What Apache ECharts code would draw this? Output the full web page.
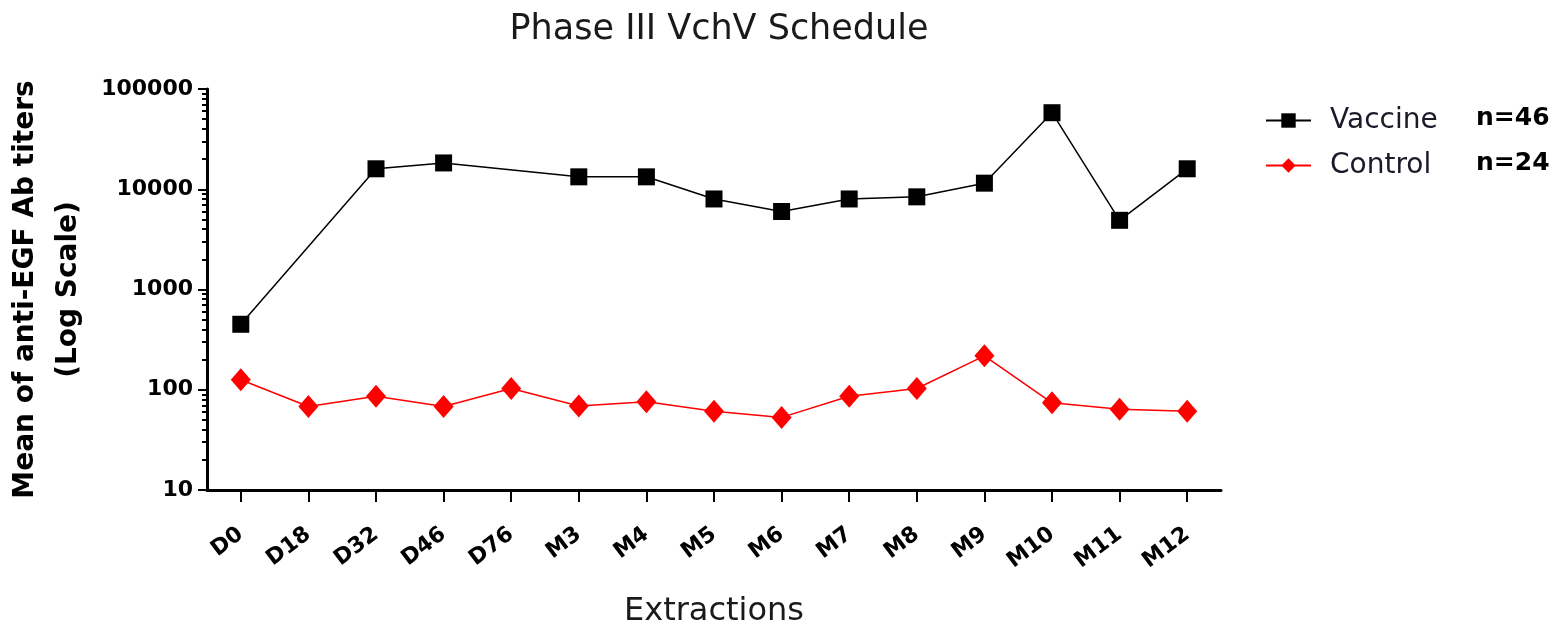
<!DOCTYPE html>
<html>
<head>
<meta charset="utf-8">
<script src="https://cdn.jsdelivr.net/npm/echarts@6/dist/echarts.min.js"></script>
<style>
  html, body { margin: 0; padding: 0; background: #fff; }
  #chart { width: 1554px; height: 632px; }
</style>
</head>
<body>
<div id="chart"></div>
<script>
// Extraction points along the schedule
var extractions = ["D0", "D18", "D32", "D46", "D76", "M3", "M4", "M5", "M6", "M7", "M8", "M9", "M10", "M11", "M12"];

// Mean anti-EGF titers (no vaccine sample at D18 / D76)
var vaccine = [450, null, 16000, 18300, null, 13300, 13300, 8000, 6000, 8000, 8400, 11500, 58000, 4900, 16000];
var control = [126, 68, 86, 68, 103, 69, 76, 61, 53, 86, 103, 218, 74, 64, 61];

var seriesNames = ["Vaccine", "Control"];
var groupSizes = ["n=46", "n=24"];

// log axis decades
var majorTicks = [10, 100, 1000, 10000, 100000];

var minorTicks = [];
majorTicks.slice(0, -1).forEach(function (d) {
  for (var k = 2; k <= 9; k++) {
    minorTicks.push(d * k);
  }
});

var chart = echarts.init(document.getElementById('chart'), null, {renderer: 'canvas'});

var font = 'DejaVu Sans';

var options = {
  backgroundColor: '#ffffff',
  animation: false,
  title: {
    text: 'Phase III VchV Schedule',
    left: 714,
    textAlign: 'center',
    top: 7,
    textStyle: {fontFamily: font, fontSize: 35, fontWeight: 'normal', color: '#1a1a1a'}
  },
  legend: {
    orient: 'vertical',
    left: 1260,
    top: 100,
    itemWidth: 45,
    itemHeight: 18,
    itemGap: 14,
    data: seriesNames,
    textStyle: {fontFamily: font, fontSize: 28, color: '#1a1a2a', lineHeight: 31, padding: [0, 0, 0, 14]}
  },
  grid: {left: 207, right: 333, top: 89, bottom: 142, outerBoundsMode: 'none'},
  xAxis: {
    type: 'category',
    data: extractions,
    boundaryGap: true,
    name: 'Extractions',
    nameLocation: 'middle',
    nameGap: 106,
    nameTextStyle: {fontFamily: font, fontSize: 32, color: '#1a1a1a'},
    axisLine: {lineStyle: {color: '#000', width: 3}},
    axisTick: {show: true, interval: 0, alignWithLabel: true, length: 12, lineStyle: {color: '#000', width: 2}},
    axisLabel: {
      interval: 0,
      rotate: 37,
      margin: 42,
      fontFamily: font,
      fontSize: 22,
      fontWeight: 'bold',
      color: '#000'
    },
    splitLine: {show: false}
  },
  yAxis: [
    {
      type: 'log',
      logBase: 10,
      min: 10,
      max: 100000,
      position: 'left',
      name: 'Mean of anti-EGF Ab titers\n(Log Scale)',
      nameLocation: 'middle',
      nameGap: 108,
      nameTextStyle: {fontFamily: font, fontSize: 28, fontWeight: 'bold', color: '#000', lineHeight: 43},
      axisLine: {show: true, lineStyle: {color: '#000', width: 3}},
      axisTick: {show: true, length: 9, customValues: majorTicks, lineStyle: {color: '#000', width: 2}},
      axisLabel: {
        margin: 14,
        fontFamily: font,
        fontSize: 22,
        fontWeight: 'bold',
        color: '#000',
        customValues: majorTicks,
        formatter: function (v) { return String(Math.round(v)); }
      },
      splitLine: {show: false}
    },
    {
      // minor ticks only
      type: 'log',
      logBase: 10,
      min: 10,
      max: 100000,
      position: 'left',
      offset: 0,
      axisLine: {show: false},
      axisTick: {show: true, length: 5, customValues: minorTicks, lineStyle: {color: '#000', width: 2}},
      axisLabel: {show: false},
      splitLine: {show: false}
    }
  ],
  series: [
    {
      name: seriesNames[0],
      type: 'line',
      data: vaccine,
      connectNulls: true,
      symbol: 'rect',
      symbolSize: 17,
      itemStyle: {color: '#000'},
      lineStyle: {color: '#000', width: 1.5},
      z: 3
    },
    {
      name: seriesNames[1],
      type: 'line',
      data: control,
      symbol: 'diamond',
      symbolSize: [20, 23],
      itemStyle: {color: '#ff0000'},
      lineStyle: {color: '#ff0000', width: 1.5},
      z: 2
    }
  ],
  graphic: groupSizes.map(function (txt, i) {
    return {
      type: 'text',
      left: 1476,
      top: 106 + i * 45,
      style: {text: txt, fontFamily: font, fontSize: 25, fontWeight: 'bold', fill: '#000'}
    };
  })
};

chart.setOption(options);
</script>
</body>
</html>
